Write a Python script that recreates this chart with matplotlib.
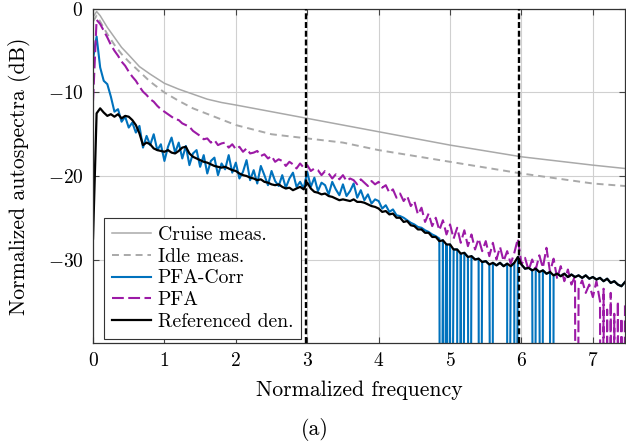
import numpy as np
import matplotlib
matplotlib.use('Agg')
import matplotlib.pyplot as plt

plt.rcParams['font.family'] = 'serif'
plt.rcParams['font.serif'] = ['cmr10']
plt.rcParams['mathtext.fontset'] = 'cm'
plt.rcParams['axes.formatter.use_mathtext'] = True
plt.rcParams['lines.scale_dashes'] = False

# frequency grid of the noisy spectra (step 0.05)
freq = np.round(np.arange(0, 7.451, 0.05), 2)

cruise_f = [0, 0.05, 0.1, 0.2, 0.3, 0.4, 0.5, 0.65, 0.8, 1.0, 1.2, 1.4, 1.6, 1.8,
            2.0, 2.5, 3.0, 3.5, 4.0, 4.5, 5.0, 5.5, 6.0, 6.5, 7.0, 7.45]
cruise_db = [-1.0, -0.3, -0.8, -2.2, -3.4, -4.6, -5.5, -6.9, -7.8, -8.9, -9.6, -10.2, -10.8, -11.2,
             -11.5, -12.3, -13.1, -13.9, -14.7, -15.5, -16.3, -17.0, -17.7, -18.2, -18.7, -19.1]

idle_f = [0, 0.05, 0.1, 0.2, 0.3, 0.4, 0.5, 0.65, 0.8, 1.0, 1.2, 1.4, 1.7, 2.0,
          2.5, 3.0, 3.5, 4.0, 4.5, 5.0, 5.5, 6.0, 6.5, 7.0, 7.45]
idle_db = [-1.5, -0.8, -1.5, -3.0, -4.3, -5.4, -6.3, -7.5, -8.7, -10.0, -11.0, -11.9, -12.9, -13.9,
           -15.0, -15.5, -16.0, -16.9, -17.6, -18.3, -19.0, -19.7, -20.3, -20.9, -21.2]

pfa_corr_db = [
    -6.0, -3.3, -7.0, -8.6, -9.0, -10.5, -12.3, -12.0, -13.5, -12.9,
    -14.2, -13.6, -14.8, -14.0, -16.6, -15.2, -16.3, -15.0, -16.9, -16.2,
    -18.2, -16.5, -15.4, -17.2, -16.0, -17.9, -16.4, -18.7, -17.3, -16.9,
    -18.9, -17.5, -19.7, -18.2, -17.8, -19.9, -18.5, -19.2, -17.5, -19.6,
    -18.4, -20.3, -19.5, -18.1, -20.5, -19.3, -20.9, -18.8, -19.9, -21.1,
    -19.4, -20.6, -21.2, -19.9, -21.4, -20.3, -19.6, -21.3, -20.7, -21.5,
    -19.5, -21.3, -20.2, -21.8, -20.8, -21.1, -22.2, -20.7, -21.6, -22.3,
    -21.0, -22.4, -21.8, -20.9, -22.6, -21.7, -22.9, -22.2, -23.3, -22.8,
    -23.0, -23.9, -23.5, -24.3, -24.0, -24.7, -24.8, -25.0, -25.3, -25.6,
    -25.8, -26.1, -26.2, -26.5, -26.7, -27.0, -27.2, -27.5, -27.7, -28.2,
    -28.2, -28.8, -28.8, -29.3, -29.2, -29.7, -29.6, -30.0, -29.9, -30.3,
    -30.2, -30.6, -30.4, -30.7, -30.4, -30.8, -30.5, -30.8, -30.4, -29.7,
    -30.6, -31.1, -31.0, -31.3, -31.1, -31.5, -31.3, -31.7, -31.5, -31.9,
    -31.7, -32.0, -31.7, -32.1, -31.8, -32.1, -31.9, -32.2, -31.9, -32.3,
    -32.1, -32.4, -32.2, -32.6, -32.3, -32.8, -32.6, -33.0, -33.2, -32.7,
]
pfa_corr_dropouts = [4.87, 4.94, 4.97, 5.00, 5.10, 5.13, 5.16, 5.27, 5.41, 5.59,
                     5.80, 5.90, 6.18, 6.29, 6.40, 6.44]

pfa_db = [
    -11.0, -1.3, -1.8, -2.6, -3.4, -4.3, -5.0, -5.6, -6.3, -6.8,
    -7.5, -8.1, -8.6, -9.3, -9.9, -10.3, -10.8, -11.1, -11.6, -12.0,
    -12.3, -12.6, -12.9, -13.2, -13.3, -13.7, -13.9, -14.1, -14.6, -14.9,
    -15.2, -15.6, -15.5, -16.0, -15.7, -16.3, -16.1, -16.0, -16.6, -16.2,
    -16.8, -16.5, -17.1, -16.7, -17.3, -17.2, -17.0, -17.6, -17.4, -17.9,
    -17.6, -18.3, -18.0, -18.2, -18.8, -18.3, -18.6, -19.1, -18.5, -19.0,
    -18.7, -19.4, -19.1, -19.3, -19.9, -19.4, -19.7, -20.3, -19.8, -20.4,
    -19.9, -20.6, -20.3, -20.5, -21.0, -20.4, -20.8, -21.2, -20.6, -21.0,
    -20.7, -21.4, -21.1, -22.0, -21.6, -22.6, -22.1, -23.0, -22.4, -23.6,
    -23.0, -24.6, -23.8, -25.5, -24.5, -26.0, -25.0, -26.5, -25.3, -27.0,
    -25.8, -27.5, -26.2, -28.0, -26.5, -28.4, -27.0, -28.8, -27.5, -29.0,
    -27.8, -29.6, -28.0, -30.0, -28.5, -30.2, -29.0, -30.5, -29.2, -27.5,
    -30.6, -29.8, -31.3, -30.0, -31.2, -29.5, -31.0, -28.6, -31.5, -29.9,
    -32.3, -30.8, -32.6, -31.2, -33.0, -32.0, -33.5, -32.5, -34.0, -33.0,
    -34.5, -32.6, -35.0, -33.5, -36.0, -34.0, -36.5, -35.0, -37.0, -35.5,
]
pfa_dropouts = [6.77, 7.12, 7.17, 7.22, 7.27, 7.33, 7.38, 7.43]

ref_db = [
    -27.5, -12.5, -11.9, -12.4, -12.8, -12.6, -12.9, -12.6, -13.1, -12.8,
    -12.9, -13.3, -13.9, -14.9, -16.3, -16.0, -16.2, -16.7, -16.9, -17.0,
    -17.1, -16.9, -17.2, -17.3, -17.0, -16.6, -16.5, -17.3, -17.7, -17.9,
    -18.1, -18.3, -18.4, -18.6, -18.8, -18.9, -19.0, -18.9, -19.1, -19.3,
    -19.4, -19.7, -19.9, -20.0, -20.2, -20.3, -20.5, -20.4, -20.7, -20.8,
    -21.0, -21.1, -21.0, -21.3, -21.5, -21.4, -21.7, -21.5, -21.3, -21.6,
    -20.8, -21.5, -21.9, -22.0, -22.2, -22.1, -22.4, -22.5, -22.7, -22.9,
    -22.8, -22.9, -23.0, -22.8, -23.1, -23.1, -23.2, -23.4, -23.6, -23.7,
    -23.9, -24.3, -24.2, -24.6, -24.5, -25.0, -25.0, -25.5, -25.4, -25.9,
    -26.0, -26.4, -26.4, -26.8, -26.8, -27.3, -27.3, -27.8, -27.7, -28.2,
    -28.2, -28.8, -28.8, -29.3, -29.2, -29.7, -29.6, -30.0, -29.9, -30.3,
    -30.2, -30.6, -30.4, -30.7, -30.4, -30.8, -30.5, -30.8, -30.4, -29.7,
    -30.6, -31.1, -31.0, -31.3, -31.1, -31.5, -31.3, -31.7, -31.5, -31.9,
    -31.7, -32.0, -31.7, -32.1, -31.8, -32.1, -31.9, -32.2, -31.9, -32.3,
    -32.1, -32.4, -32.2, -32.6, -32.3, -32.8, -32.6, -33.0, -33.2, -32.7,
]

marker_f = [2.98, 5.96]
x_ticks = [0, 1, 2, 3, 4, 5, 6, 7]
y_ticks = [0, -10, -20, -30]
y_ticklabels = ['$0$', '$-10$', '$-20$', '$-30$']

FLOOR = -100.0  # empty bins (-inf dB)


def with_dropouts(f, v, drops):
    f = np.concatenate([f, drops])
    v = np.concatenate([v, np.full(len(drops), FLOOR)])
    order = np.argsort(f, kind='stable')
    return f[order], v[order]


fig = plt.figure(figsize=(6.26, 4.45), dpi=100)
ax = fig.add_axes([0.1486, 0.2292, 0.8498, 0.7506])

ax.grid(True, color='#d0d0d0', lw=0.8)
ax.set_axisbelow(True)

ax.plot(cruise_f, cruise_db, color='#a9a9a9', lw=1.1, label='Cruise meas.')
ax.plot(idle_f, idle_db, color='#a9a9a9', lw=1.4, ls=(0, (5, 3.5)), label='Idle meas.')
f_c, v_c = with_dropouts(freq, pfa_corr_db, pfa_corr_dropouts)
ax.plot(f_c, v_c, color='#0072bd', lw=1.5, label='PFA-Corr')
f_p, v_p = with_dropouts(freq, pfa_db, pfa_dropouts)
ax.plot(f_p, v_p, color='#9c1aa6', lw=1.5, ls=(0, (8.5, 3.2)), label='PFA')
ax.plot(freq, ref_db, color='black', lw=1.6, label='Referenced den.')
for fm in marker_f:
    ax.axvline(fm, color='black', lw=1.7, ls=(0, (4.3, 2.0)), zorder=4)

ax.set_xlim(0, 7.45)
ax.set_ylim(-40, 0)
ax.set_xticks(x_ticks)
ax.set_xticklabels(['$%d$' % t for t in x_ticks])
ax.set_yticks(y_ticks)
ax.set_yticklabels(y_ticklabels)
ax.tick_params(axis='both', direction='in', length=4, width=0.8, color='#444444',
               labelsize=14, top=True, right=True)
ax.tick_params(axis='x', pad=6.5)
ax.tick_params(axis='y', pad=7)
for s in ax.spines.values():
    s.set_color('#333333')
    s.set_linewidth(0.9)

ax.set_xlabel('Normalized frequency', fontsize=15.7)
ax.set_ylabel('Normalized autospectra (dB)', fontsize=15.7)
ax.xaxis.set_label_coords(0.5, -0.112)
ax.yaxis.set_label_coords(-0.117, 0.5)

leg = ax.legend(loc='lower left', bbox_to_anchor=(0.0207, 0.012), borderaxespad=0,
                fontsize=14.1, handlelength=2.0, handletextpad=0.35, labelspacing=0.2,
                borderpad=0.4, fancybox=False, framealpha=1, edgecolor='#333333')
leg.get_frame().set_linewidth(0.8)
leg.set_zorder(10)

fig.text(0.503, 0.034, '(a)', ha='center', va='center', fontsize=15.7)

fig.savefig('out.png', dpi=100)
